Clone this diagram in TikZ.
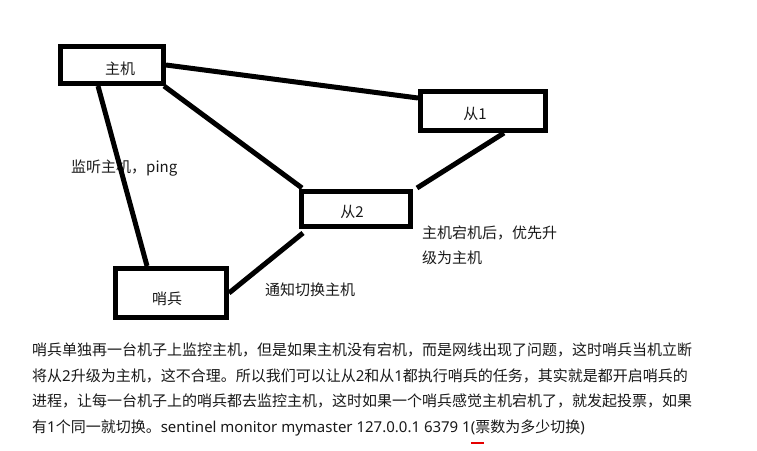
\documentclass[tikz,border=0pt]{standalone}
\usepackage{fontspec}
\setmainfont{Noto Sans CJK SC}
\newfontfamily\lat{Noto Sans}
\usetikzlibrary{calc}
\begin{document}
\begin{tikzpicture}[x=1pt,y=-1pt,
  box/.style={draw=black,line width=5pt,minimum width=#1,inner sep=0pt},
  wire/.style={draw=black,line width=5pt},
  txt/.style={inner sep=0pt,font=\fontsize{15}{18}\selectfont,text=black!90},
  para/.style={inner sep=0pt,anchor=west,text height=0.88em,text depth=0.12em,
    font=\fontsize{15}{18}\selectfont,text=black!90}]
\useasboundingbox (0,0) rectangle (757,450);

% server boxes
\node[box=103pt,minimum height=37pt] (m)   at (112,65)  {};
\node[box=125pt,minimum height=39pt] (s1)  at (483,111) {};
\node[box=109pt,minimum height=35pt] (s2)  at (356,209) {};
\node[box=111pt,minimum height=49pt] (sen) at (171,293) {};

% box captions
\node[txt] (mt)   at (120,69)  {主机};
\node[txt] (s1t)  at (475,114) {从1};
\node[txt] (s2t)  at (352,212) {从2};
\node[txt] (sent) at (167,299) {哨兵};

% annotations
\node[txt,anchor=west] (ping) at (71,168) {监听主机，ping};
\node[txt,anchor=west] (up1)  at (422,233) {主机宕机后，优先升};
\node[txt,anchor=west] (up2)  at (422,258) {级为主机};
\node[txt,anchor=west] (note) at (265,290) {通知切换主机};

% links
\draw[wire] (m.east) -- ($(s1.west)+(0,-13)$);
\draw[wire] ($(m.south east)+(-2,0)$) -- ($(s2.north west)+(3,-1)$);
\draw[wire] ($(m.south)+(-14,0)$) -- ($(sen.north)+(-24,0)$);
\draw[wire] ($(s1.south)+(21,0)$) -- ($(s2.north east)+(4,-1)$);
\draw[wire] ($(s2.south west)+(4,4)$) -- (sen.east);

% explanation
\node[para] (l1) at (32,352) {哨兵单独再一台机子上监控主机，但是如果主机没有宕机，而是网线出现了问题，这时哨兵当机立断};
\node[para] (l2) at (32,377.5) {将从{\lat 2}升级为主机，这不合理。所以我们可以让从{\lat 2}和从{\lat 1}都执行哨兵的任务，其实就是都开启哨兵的};
\node[para] (l3) at (32,403) {进程，让每一台机子上的哨兵都去监控主机，这时如果一个哨兵感觉主机宕机了，就发起投票，如果};
\node[para] (l4) at (32,428.5) {有{\lat 1}个同一就切换。{\lat sentinel monitor mymaster 127.0.0.1 6379 1(}票数为多少切换{\lat )}};

% red mark under the vote count
\draw[red!90!black,line width=2.2pt] (471,443) -- (484,443);
\end{tikzpicture}
\end{document}
